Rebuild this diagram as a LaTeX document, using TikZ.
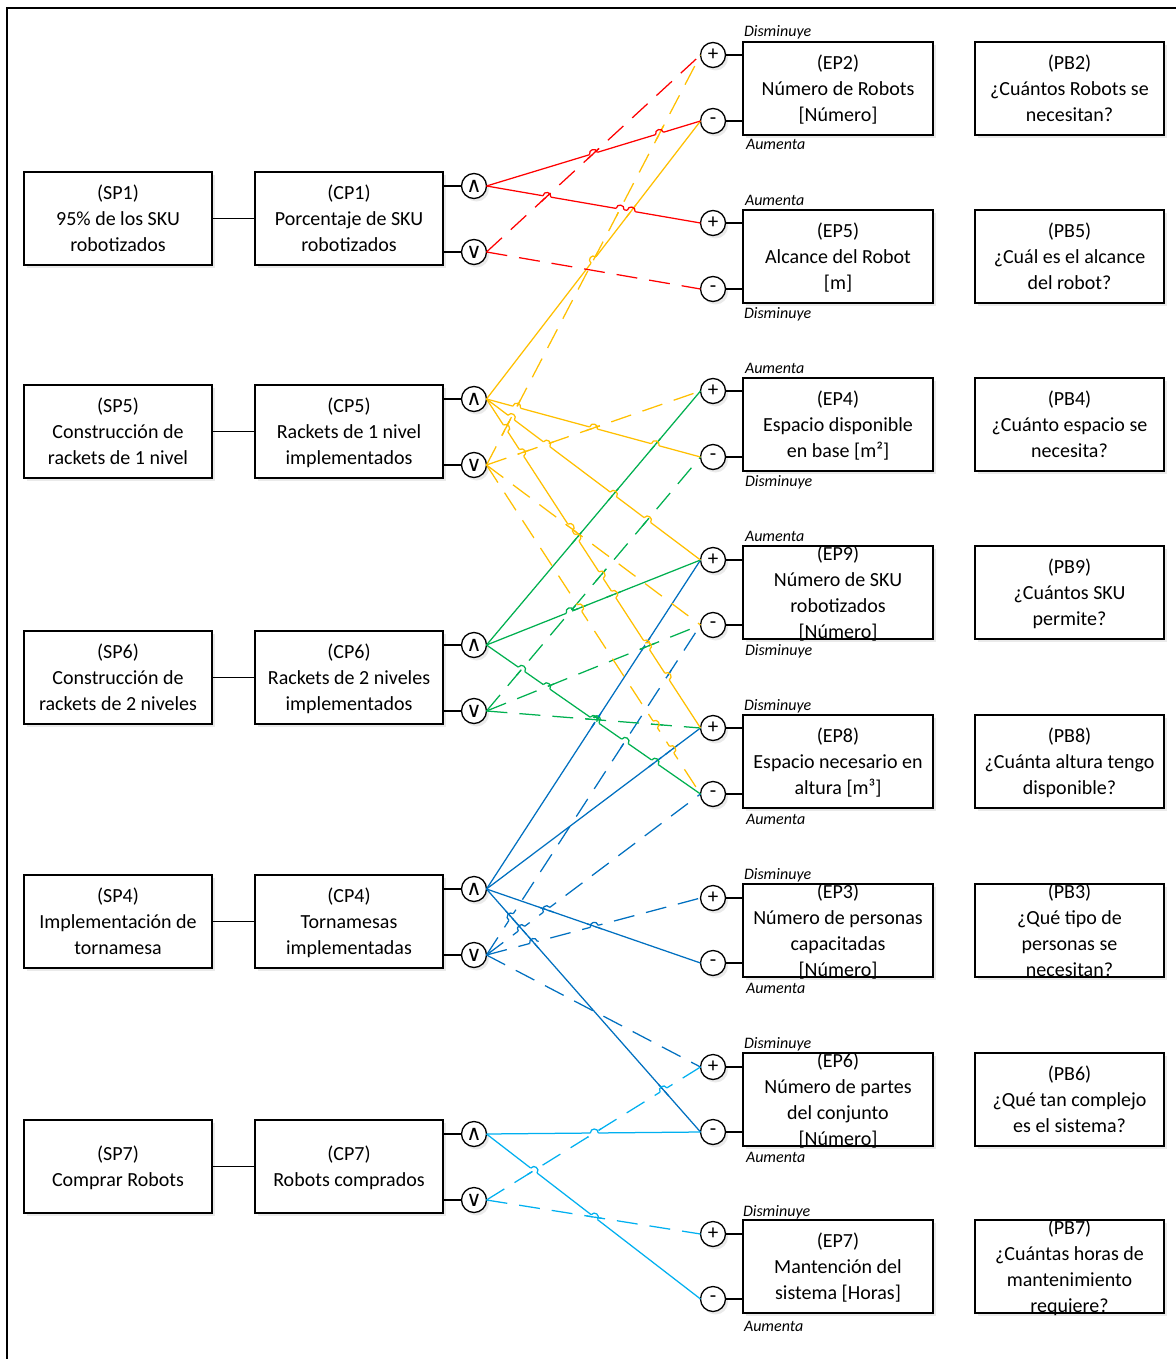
\documentclass[tikz,border=0pt]{standalone}
\usepackage{fontspec}
\setmainfont{Carlito}
\newfontfamily\symfont{DejaVu Sans}
\usetikzlibrary{shadows}

\definecolor{cred}{HTML}{FF0000}
\definecolor{cyel}{HTML}{FFC000}
\definecolor{cgrn}{HTML}{00B050}
\definecolor{cblu}{HTML}{0070C0}
\definecolor{clbl}{HTML}{00B0F0}

% gate / sign / colour / dashed? / gate y / sign y
\def\links{u4/p9/cblu/0/889/560, u4/p8/cblu/0/889/728, u4/m3/cblu/0/889/963, u4/m6/cblu/0/889/1132,
 d4/m9/cblu/1/955/625, d4/m8/cblu/1/955/794, d4/p3/cblu/1/955/898, d4/p6/cblu/1/955/1067,
 d7/p6/clbl/1/1200/1067, d7/p7/clbl/1/1200/1234,
 u7/m6/clbl/0/1134/1132, u7/m7/clbl/0/1134/1299,
 d6/m4/cgrn/1/711/457, d6/m9/cgrn/1/711/625, d6/p8/cgrn/1/711/728,
 u6/p4/cgrn/0/645/391, u6/p9/cgrn/0/645/560, u6/m8/cgrn/0/645/794,
 d5/p2/cyel/1/465/55, d5/p4/cyel/1/465/391, d5/m9/cyel/1/465/625, d5/m8/cyel/1/465/794,
 u5/m2/cyel/0/399/121, u5/m4/cyel/0/399/457, u5/p9/cyel/0/399/560, u5/p8/cyel/0/399/728,
 d1/p2/cred/1/252/55, d1/m5/cred/1/252/289,
 u1/m2/cred/0/186/121, u1/p5/cred/0/186/223}

\begin{document}
\begin{tikzpicture}[x=1pt,y=-1pt,
  every node/.style={inner sep=0pt, outer sep=0pt},
  soft/.style={drop shadow={opacity=0.16, shadow xshift=2.5pt, shadow yshift=-3pt}},
  box/.style={draw, line width=1.3pt, fill=white, minimum height=93pt, soft},
  lbox/.style={box, minimum width=188pt},
  ebox/.style={box, minimum width=190pt},
  pbox/.style={box, minimum width=189pt},
  txt/.style={align=center, yshift=-4pt, font=\fontsize{20}{26}\selectfont,
    execute at begin node=\strut, execute at end node=\strut},
  sign/.style={draw, circle, line width=1.3pt, fill=white, minimum size=25pt, soft,
    font=\fontsize{21}{21}\selectfont},
  gate/.style={sign, font=\symfont\fontsize{21}{21}\selectfont},
  tag/.style={anchor=base west, font=\fontsize{16}{16}\selectfont\itshape},
  link/.style={line width=1.3pt},
  lk0/.style={line width=1.25pt},
  lk1/.style={line width=1.25pt, dash pattern=on 21pt off 12pt},
]
\useasboundingbox (0,0) rectangle (1175,1359);
\fill[white] (0,0) rectangle (1175,1359);
\draw[line width=2pt] (7,1375) -- (7,8) -- (1190,8);

% ---------- left column: sub-processes and characteristic parameters ----------
\node[lbox] (sp1) at (118,218.5) {};
\node[lbox] (cp1) at (349,218.5) {};
\node[lbox] (sp5) at (118,431.5) {};
\node[lbox] (cp5) at (349,431.5) {};
\node[lbox] (sp6) at (118,677.5) {};
\node[lbox] (cp6) at (349,677.5) {};
\node[lbox] (sp4) at (118,921.5) {};
\node[lbox] (cp4) at (349,921.5) {};
\node[lbox] (sp7) at (118,1166.5) {};
\node[lbox] (cp7) at (349,1166.5) {};

\node[txt] (sp1t) at (sp1) {(SP1)\\95\% de los SKU\\robotizados};
\node[txt] (cp1t) at (cp1) {(CP1)\\Porcentaje de SKU\\robotizados};
\node[txt] (sp5t) at (sp5) {(SP5)\\Construcción de\\rackets de 1 nivel};
\node[txt] (cp5t) at (cp5) {(CP5)\\Rackets de 1 nivel\\implementados};
\node[txt] (sp6t) at (sp6) {(SP6)\\Construcción de\\rackets de 2 niveles};
\node[txt] (cp6t) at (cp6) {(CP6)\\Rackets de 2 niveles\\implementados};
\node[txt] (sp4t) at (sp4) {(SP4)\\Implementación de\\tornamesa};
\node[txt] (cp4t) at (cp4) {(CP4)\\Tornamesas\\implementadas};
\node[txt] (sp7t) at (sp7) {(SP7)\\Comprar Robots};
\node[txt] (cp7t) at (cp7) {(CP7)\\Robots comprados};

% up / down gates
\node[gate] (u1) at (474,186) {∧};
\node[gate] (d1) at (474,252) {∨};
\node[gate] (u5) at (474,399) {∧};
\node[gate] (d5) at (474,465) {∨};
\node[gate] (u6) at (474,645) {∧};
\node[gate] (d6) at (474,711) {∨};
\node[gate] (u4) at (474,889) {∧};
\node[gate] (d4) at (474,955) {∨};
\node[gate] (u7) at (474,1134) {∧};
\node[gate] (d7) at (474,1200) {∨};

\foreach \s/\c/\u/\d in {sp1/cp1/u1/d1, sp5/cp5/u5/d5, sp6/cp6/u6/d6, sp4/cp4/u4/d4, sp7/cp7/u7/d7}{
  \draw[link] (\s.east) -- (\c.west);
  \draw[link] (\c.east |- \u) -- (\u.west);
  \draw[link] (\c.east |- \d) -- (\d.west);
}

% ---------- right column: effects and questions ----------
\node[ebox] (ep2) at (838,88.5) {};
\node[ebox] (ep5) at (838,256.5) {};
\node[ebox] (ep4) at (838,424.5) {};
\node[ebox] (ep9) at (838,592.5) {};
\node[ebox] (ep8) at (838,761.5) {};
\node[ebox] (ep3) at (838,930.5) {};
\node[ebox] (ep6) at (838,1099.5) {};
\node[ebox] (ep7) at (838,1266.5) {};

\node[pbox] (pb2) at (1069.5,88.5) {};
\node[pbox] (pb5) at (1069.5,256.5) {};
\node[pbox] (pb4) at (1069.5,424.5) {};
\node[pbox] (pb9) at (1069.5,592.5) {};
\node[pbox] (pb8) at (1069.5,761.5) {};
\node[pbox] (pb3) at (1069.5,930.5) {};
\node[pbox] (pb6) at (1069.5,1099.5) {};
\node[pbox] (pb7) at (1069.5,1266.5) {};

\node[txt] (ep2t) at (ep2) {(EP2)\\Número de Robots\\{[Número]}};
\node[txt] (ep5t) at (ep5) {(EP5)\\Alcance del Robot\\{[m]}};
\node[txt] (ep4t) at (ep4) {(EP4)\\Espacio disponible\\en base [m²]};
\node[txt] (ep9t) at (ep9) {(EP9)\\Número de SKU\\robotizados\\{[Número]}};
\node[txt] (ep8t) at (ep8) {(EP8)\\Espacio necesario en\\altura [m³]};
\node[txt] (ep3t) at (ep3) {(EP3)\\Número de personas\\capacitadas\\{[Número]}};
\node[txt] (ep6t) at (ep6) {(EP6)\\Número de partes\\del conjunto\\{[Número]}};
\node[txt] (ep7t) at (ep7) {(EP7)\\Mantención del\\sistema [Horas]};

\node[txt] (pb2t) at (pb2) {(PB2)\\¿Cuántos Robots se\\necesitan?};
\node[txt] (pb5t) at (pb5) {(PB5)\\¿Cuál es el alcance\\del robot?};
\node[txt] (pb4t) at (pb4) {(PB4)\\¿Cuánto espacio se\\necesita?};
\node[txt] (pb9t) at (pb9) {(PB9)\\¿Cuántos SKU\\permite?};
\node[txt] (pb8t) at (pb8) {(PB8)\\¿Cuánta altura tengo\\disponible?};
\node[txt] (pb3t) at (pb3) {(PB3)\\¿Qué tipo de\\personas se\\necesitan?};
\node[txt] (pb6t) at (pb6) {(PB6)\\¿Qué tan complejo\\es el sistema?};
\node[txt] (pb7t) at (pb7) {(PB7)\\¿Cuántas horas de\\mantenimiento\\requiere?};

% plus / minus inputs
\node[sign] (p2) at (713,55) {+};   \node[sign] (m2) at (713,121) {-};
\node[sign] (p5) at (713,223) {+};  \node[sign] (m5) at (713,289) {-};
\node[sign] (p4) at (713,391) {+};  \node[sign] (m4) at (713,457) {-};
\node[sign] (p9) at (713,560) {+};  \node[sign] (m9) at (713,625) {-};
\node[sign] (p8) at (713,728) {+};  \node[sign] (m8) at (713,794) {-};
\node[sign] (p3) at (713,898) {+};  \node[sign] (m3) at (713,963) {-};
\node[sign] (p6) at (713,1067) {+}; \node[sign] (m6) at (713,1132) {-};
\node[sign] (p7) at (713,1234) {+}; \node[sign] (m7) at (713,1299) {-};

\foreach \e/\p/\m in {ep2/p2/m2, ep5/p5/m5, ep4/p4/m4, ep9/p9/m9, ep8/p8/m8, ep3/p3/m3, ep6/p6/m6, ep7/p7/m7}{
  \draw[link] (\p.east) -- (\e.west |- \p);
  \draw[link] (\m.east) -- (\e.west |- \m);
}

% direction tags above and below each effect box
\node[tag] (ep2a) at (744,37) {Disminuye};   \node[tag] (ep2b) at (746,150) {Aumenta};
\node[tag] (ep5a) at (745,205) {Aumenta};    \node[tag] (ep5b) at (744,318) {Disminuye};
\node[tag] (ep4a) at (745,373) {Aumenta};    \node[tag] (ep4b) at (745,486) {Disminuye};
\node[tag] (ep9a) at (745,541) {Aumenta};    \node[tag] (ep9b) at (745,655) {Disminuye};
\node[tag] (ep8a) at (744,710) {Disminuye};  \node[tag] (ep8b) at (746,824) {Aumenta};
\node[tag] (ep3a) at (744,879) {Disminuye};  \node[tag] (ep3b) at (746,993) {Aumenta};
\node[tag] (ep6a) at (744,1048) {Disminuye}; \node[tag] (ep6b) at (746,1162) {Aumenta};
\node[tag] (ep7a) at (743,1216) {Disminuye}; \node[tag] (ep7b) at (744,1331) {Aumenta};

% ---------- influence links (solid: rises, dashed: falls) ----------
\foreach \g/\s/\c/\d/\ya/\yb in \links {
  \draw[lk\d, draw=\c] (\g.east) -- (\s.west);
}

% ---------- line jumps: a later link hops over an earlier one ----------
\foreach \ga/\sa/\ca/\da/\ya/\yb [count=\i] in \links {
  \foreach \gb/\sb/\cb/\db/\yc/\yd [count=\j] in \links {
    \ifnum\j<\i\relax
      \pgfmathsetmacro\hden{(\yb-\ya)-(\yd-\yc)}
      \pgfmathtruncatemacro\hok{abs(\hden)>0.5}
      \ifnum\hok=1
        \pgfmathsetmacro\hpar{(\yc-\ya)/\hden}
        \pgfmathtruncatemacro\hok{and(\hpar>0.05,\hpar<0.95)}
        \ifnum\hok=1
          \pgfmathsetmacro\hdy{\yb-\ya}
          \pgfmathsetmacro\hlen{10*veclen(21.4,\hdy/10)}
          \pgfmathsetmacro\hph{mod(\hpar*\hlen,33)}
          \pgfmathtruncatemacro\hok{or(\da==0, and(\hph>4.5,\hph<16.5))}
          \ifnum\hok=1
            \pgfmathsetmacro\hx{486.5+214*\hpar}
            \pgfmathsetmacro\hy{\ya+\hdy*\hpar}
            \pgfmathsetmacro\hux{214/\hlen}
            \pgfmathsetmacro\huy{\hdy/\hlen}
            \coordinate (hopa) at (\hx-4*\hux,\hy-4*\huy);
            \coordinate (hopb) at (\hx+4*\hux,\hy+4*\huy);
            \draw[white, line width=2.4pt] (hopa) -- (hopb);
            \begin{scope}
              \clip (\hx,\hy) circle [radius=8pt];
              \draw[lk\db, draw=\cb] (\gb.east) -- (\sb.west);
            \end{scope}
            \draw[lk0, draw=\ca] (hopa) .. controls +(5.33*\huy,-5.33*\hux) and +(5.33*\huy,-5.33*\hux) .. (hopb);
          \fi
        \fi
      \fi
    \fi
  }
}
\end{tikzpicture}
\end{document}
